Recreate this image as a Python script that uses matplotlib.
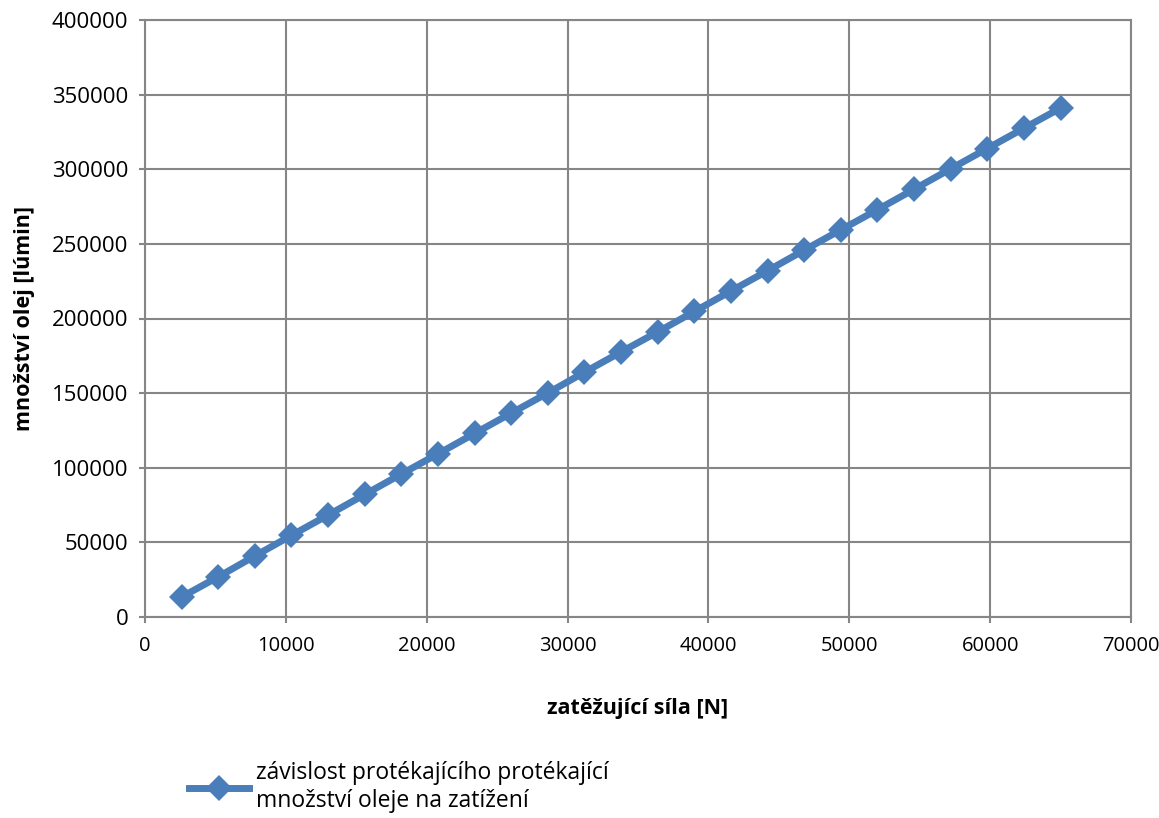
import matplotlib
matplotlib.use("Agg")
import matplotlib.pyplot as plt

# data
force_N = [2600, 5200, 7800, 10400, 13000, 15600, 18200, 20800, 23400, 26000,
           28600, 31200, 33800, 36400, 39000, 41600, 44200, 46800, 49400, 52000,
           54600, 57200, 59800, 62400, 65000]
oil_amount = [13400, 26900, 40900, 54700, 68300, 82100, 95800, 109300, 123000, 136600,
              150100, 164000, 177600, 191000, 204700, 218400, 232000, 245800, 259400, 272900,
              286600, 300300, 313900, 327500, 341000]
x_ticks = [0, 10000, 20000, 30000, 40000, 50000, 60000, 70000]
y_ticks = [0, 50000, 100000, 150000, 200000, 250000, 300000, 350000, 400000]
series_label = "závislost protékajícího protékající\nmnožství oleje na zatížení"
x_label = "zatěžující síla [N]"
y_label = "množství olej [lúmin]"

plt.rcParams['font.family'] = ['Open Sans', 'DejaVu Sans']

fig = plt.figure(figsize=(11.59, 8.18), dpi=100)
ax = fig.add_axes([145/1159, 1-617/818, (1131-145)/1159, (617-20)/818])

grid_c = '#868686'
line_c = '#4a7ebb'

ax.plot(force_N, oil_amount, color=line_c, lw=5, marker='D', ms=13,
        markeredgewidth=0, label=series_label, zorder=3)

ax.set_xlim(0, 70000)
ax.set_ylim(0, 400000)
ax.set_xticks(x_ticks)
ax.set_yticks(y_ticks)
ax.set_xticklabels([str(v) for v in x_ticks], fontsize=14.5)
ax.set_yticklabels([str(v) for v in y_ticks], fontsize=16)
ax.grid(True, color=grid_c, lw=1.5)
for s in ax.spines.values():
    s.set_color(grid_c)
    s.set_linewidth(1.5)
ax.tick_params(axis='both', colors=grid_c, length=4, width=1.5, labelcolor='black')
ax.tick_params(axis='x', pad=10)
ax.tick_params(axis='y', pad=8)

ax.set_xlabel(x_label, fontsize=15.5, fontweight='bold', labelpad=30)
ax.set_ylabel(y_label, fontsize=15.5, fontweight='bold', labelpad=12)

fig.legend(loc='upper left', bbox_to_anchor=(180/1159, 1-752/818), frameon=False,
           fontsize=16.5, handlelength=2.6, handletextpad=0.3, borderaxespad=0,
           labelspacing=0.2)

fig.savefig("out.png", dpi=100)
